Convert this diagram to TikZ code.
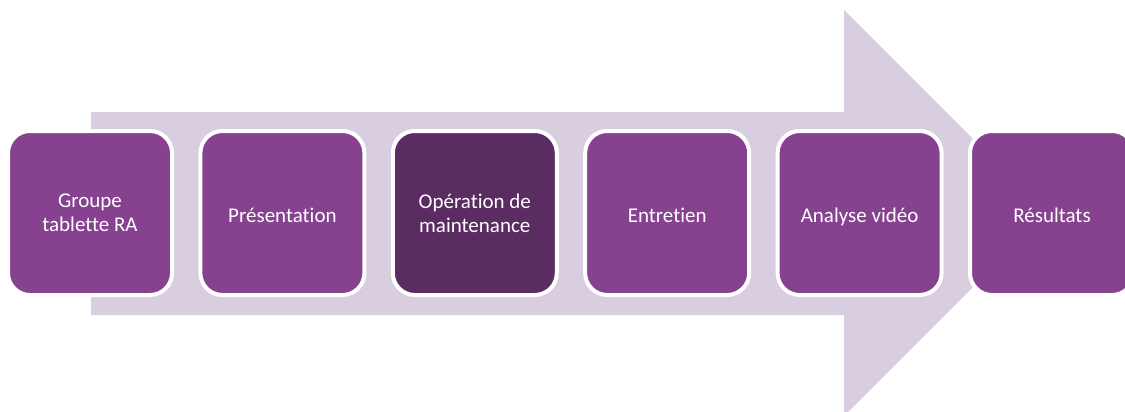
\documentclass[tikz,border=0pt]{standalone}
\usepackage{fontspec}
\setmainfont[Ligatures=CommonOff]{Carlito}
\usetikzlibrary{positioning}

\definecolor{stepPurple}{HTML}{86418F}
\definecolor{stepDark}{HTML}{5B2C62}
\definecolor{arrowLilac}{HTML}{D9CEDF}

\begin{document}
\begin{tikzpicture}[x=1pt, y=-1pt,
            stepbox/.style={
                draw=white,
                line width=4pt,
                fill=stepPurple,
                rounded corners=22pt,
                minimum width=164pt,
                minimum height=164pt,
                outer sep=0pt,
                text=white,
                font=\fontsize{21}{24}\selectfont,
                text height=23pt,
                text depth=5pt
            },
            twolinebox/.style={
                stepbox,
                align=center,
                text height=,
                text depth=
            },
            activebox/.style={
                twolinebox,
                fill=stepDark
            }
        ]

        \useasboundingbox (0,0) rectangle (1125,412);

        % Big background arrow
        \fill[arrowLilac] (91,112) -- (844,112) -- (844,10) -- (1047,213)
            -- (844,416) -- (844,315) -- (91,315) -- cycle;

        % Steps, left to right
        \node[twolinebox] (groupe) at (90,213) {Groupe\\tablette RA};

        \node[stepbox, right=28.4pt of groupe] (presentation) {Présentation};

        \node[activebox, right=28.4pt of presentation] (operation)
            {Opération de\\maintenance};

        \node[stepbox, right=28.4pt of operation] (entretien) {Entretien};

        \node[stepbox, right=28.4pt of entretien] (analyse) {Analyse vidéo};

        \node[stepbox, right=28.4pt of analyse] (resultats) {Résultats};
        \end{tikzpicture}
\end{document}
